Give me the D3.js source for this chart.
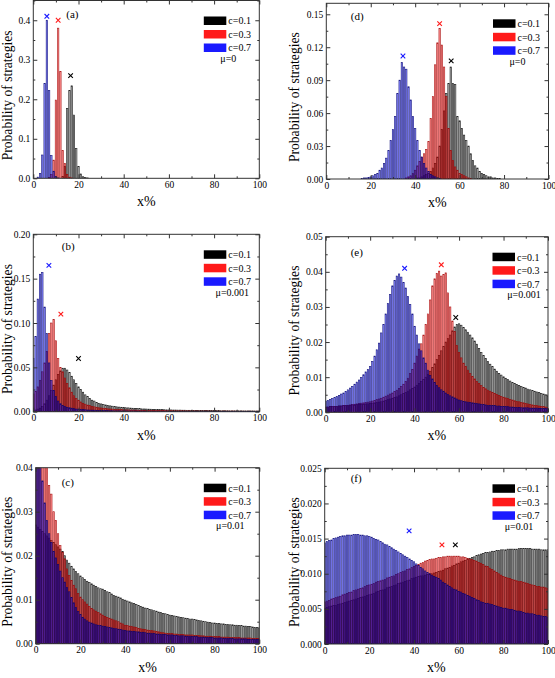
<!DOCTYPE html>
<html><head><meta charset="utf-8">
<script src="https://cdn.jsdelivr.net/npm/d3@7"></script>
<style>
body{margin:0;background:#fff}
svg{display:block}
text{font-family:"Liberation Serif","Times New Roman",serif;fill:#000}
</style>
</head><body>
<svg id="chart" width="555" height="678"></svg>
<script>
// ---------- DATA (x = 0..100 %, one value per integer x) ----------
const xTickValues = [0, 20, 40, 60, 80, 100];
const seriesNames = ["c=0.1", "c=0.3", "c=0.7"];

// (a) mu = 0
const black_a = [
0,0,0,0,0,0,0,0,0,0,
0,0,0,0.005,0.03,0.177,0.222,0.234,0.16,0.075,
0.03,0.011,0.004,0.002,0.001,0,0,0,0,0,
0,0,0,0,0,0,0,0,0,0,
0,0,0,0,0,0,0,0,0,0,
0,0,0,0,0,0,0,0,0,0,
0,0,0,0,0,0,0,0,0,0,
0,0,0,0,0,0,0,0,0,0,
0,0,0,0,0,0,0,0,0,0,
0,0,0,0,0,0,0,0,0,0,
0];
const red_a = [
0,0,0,0,0,0,0,0.002,0.01,0.046,
0.198,0.38,0.27,0.07,0.038,0.01,0.003,0.001,0,0,
0,0,0,0,0,0,0,0,0,0,
0,0,0,0,0,0,0,0,0,0,
0,0,0,0,0,0,0,0,0,0,
0,0,0,0,0,0,0,0,0,0,
0,0,0,0,0,0,0,0,0,0,
0,0,0,0,0,0,0,0,0,0,
0,0,0,0,0,0,0,0,0,0,
0,0,0,0,0,0,0,0,0,0,
0];
const blue_a = [
0,0,0.003,0.012,0.059,0.24,0.40,0.222,0.058,0.018,
0.005,0.001,0,0,0,0,0,0,0,0,
0,0,0,0,0,0,0,0,0,0,
0,0,0,0,0,0,0,0,0,0,
0,0,0,0,0,0,0,0,0,0,
0,0,0,0,0,0,0,0,0,0,
0,0,0,0,0,0,0,0,0,0,
0,0,0,0,0,0,0,0,0,0,
0,0,0,0,0,0,0,0,0,0,
0,0,0,0,0,0,0,0,0,0,
0];
const peaks_a = [[16.5, 0.26], [11, 0.40], [6, 0.41]];

// (d) mu = 0
const black_d = [
0,0,0,0,0,0,0,0,0,0,
0,0,0,0,0,0,0,0,0,0,
0,0,0,0,0,0,0,0,0,0,
0,0,0,0,0,0,0,0,0,0,
0,0.001,0.001,0.002,0.003,0.004,0.005,0.007,0.01,0.014,
0.02,0.03,0.045,0.062,0.078,0.087,0.102,0.087,0.086,0.057,
0.053,0.046,0.04,0.035,0.03,0.023,0.017,0.012,0.01,0.007,
0.005,0.004,0.003,0.002,0.002,0.001,0.001,0.0005,0.0005,0,
0,0,0,0,0,0,0,0,0,0,
0,0,0,0,0,0,0,0,0,0,
0];
const red_d = [
0,0,0,0,0,0,0,0,0,0,
0,0,0,0,0,0,0,0,0,0,
0,0,0,0,0,0,0,0,0,0,
0,0,0,0,0,0,0.001,0.002,0.003,0.005,
0.008,0.012,0.016,0.02,0.023,0.027,0.034,0.055,0.075,0.104,
0.124,0.137,0.122,0.102,0.075,0.046,0.026,0.017,0.011,0.008,
0.005,0.004,0.003,0.002,0.001,0.0005,0,0,0,0,
0,0,0,0,0,0,0,0,0,0,
0,0,0,0,0,0,0,0,0,0,
0,0,0,0,0,0,0,0,0,0,
0];
const blue_d = [
0,0,0,0,0,0,0,0,0,0,
0,0,0,0,0,0,0.0005,0.001,0.001,0.0015,
0.002,0.003,0.004,0.005,0.008,0.01,0.014,0.019,0.026,0.035,
0.045,0.057,0.078,0.09,0.106,0.102,0.1,0.084,0.072,0.057,
0.046,0.035,0.026,0.02,0.014,0.01,0.007,0.004,0.003,0.002,
0.001,0.0005,0,0,0,0,0,0,0,0,
0,0,0,0,0,0,0,0,0,0,
0,0,0,0,0,0,0,0,0,0,
0,0,0,0,0,0,0,0,0,0,
0,0,0,0,0,0,0,0,0,0,
0];
const peaks_d = [[56.2, 0.1076], [51, 0.1415], [34.5, 0.112]];

// (b) mu = 0.001
const black_b = [
0.001,0.002,0.003,0.004,0.006,0.009,0.013,0.018,0.024,0.03,
0.036,0.042,0.046,0.049,0.049,0.047,0.044,0.04,0.036,0.032,
0.028,0.025,0.022,0.019,0.017,0.015,0.013,0.012,0.0105,0.0095,
0.0088,0.0082,0.0076,0.0071,0.0066,0.0062,0.0058,0.0055,0.0052,0.005,
0.0047,0.0045,0.0043,0.0041,0.0039,0.0037,0.0035,0.0034,0.0032,0.0031,
0.003,0.0029,0.0028,0.0027,0.0026,0.0025,0.0024,0.0023,0.0022,0.0021,
0.002,0.002,0.0019,0.0019,0.0018,0.0018,0.0017,0.0017,0.0016,0.0016,
0.0015,0.0015,0.0015,0.0014,0.0014,0.0014,0.0013,0.0013,0.0013,0.0012,
0.0012,0.0012,0.0012,0.0011,0.0011,0.0011,0.0011,0.001,0.001,0.001,
0.001,0.001,0.001,0.0009,0.0009,0.0009,0.0009,0.0009,0.0008,0.0008,
0.0008];
const red_b = [
0.02,0.023,0.028,0.035,0.045,0.055,0.068,0.088,0.1,0.104,
0.08,0.06,0.05,0.045,0.038,0.032,0.027,0.022,0.018,0.015,
0.013,0.011,0.0095,0.0085,0.0075,0.0068,0.006,0.0055,0.005,0.0045,
0.0042,0.0039,0.0036,0.0033,0.0031,0.0029,0.0027,0.0025,0.0024,0.0023,
0.0022,0.0021,0.002,0.0019,0.0018,0.0017,0.0017,0.0016,0.0016,0.0015,
0.0015,0.0014,0.0014,0.0013,0.0013,0.0013,0.0012,0.0012,0.0012,0.0011,
0.0011,0.0011,0.001,0.001,0.001,0.001,0.001,0.0009,0.0009,0.0009,
0.0009,0.0009,0.0008,0.0008,0.0008,0.0008,0.0008,0.0008,0.0008,0.0007,
0.0007,0.0007,0.0007,0.0007,0.0007,0.0007,0.0007,0.0007,0.0007,0.0007,
0.0006,0.0006,0.0006,0.0006,0.0006,0.0006,0.0006,0.0006,0.0006,0.0006,
0.0006];
const blue_b = [
0.06,0.085,0.127,0.155,0.157,0.118,0.088,0.055,0.035,0.024,
0.017,0.012,0.009,0.007,0.006,0.005,0.0045,0.004,0.0035,0.003,
0.0028,0.0026,0.0024,0.0022,0.002,0.0019,0.0018,0.0017,0.0016,0.0015,
0.0014,0.0013,0.0012,0.0012,0.0011,0.0011,0.001,0.001,0.001,0.0009,
0.0009,0.0009,0.0008,0.0008,0.0008,0.0008,0.0007,0.0007,0.0007,0.0007,
0.0006,0.0006,0.0006,0.0006,0.0006,0.0006,0.0006,0.0006,0.0006,0.0006,
0.0005,0.0005,0.0005,0.0005,0.0005,0.0005,0.0005,0.0005,0.0005,0.0005,
0.0005,0.0005,0.0005,0.0005,0.0005,0.0005,0.0005,0.0005,0.0005,0.0005,
0.0004,0.0004,0.0004,0.0004,0.0004,0.0004,0.0004,0.0004,0.0004,0.0004,
0.0004,0.0004,0.0004,0.0004,0.0004,0.0004,0.0004,0.0004,0.0004,0.0004,
0.0004];
const peaks_b = [[20, 0.06], [12.2, 0.11], [6.9, 0.165]];

// (e) mu = 0.001
const black_e = [
0.0015,0.0015,0.0016,0.0016,0.0017,0.0017,0.0018,0.0018,0.0019,0.0019,
0.002,0.002,0.0021,0.0021,0.0022,0.0022,0.0023,0.0023,0.0024,0.0024,
0.0025,0.0026,0.0027,0.0028,0.0029,0.003,0.0032,0.0034,0.0036,0.0038,
0.004,0.0042,0.0044,0.0047,0.005,0.0053,0.0056,0.006,0.0064,0.0068,
0.0072,0.0077,0.0082,0.0088,0.0094,0.01,0.0108,0.0117,0.0127,0.0138,
0.015,0.0162,0.0175,0.0188,0.02,0.021,0.022,0.0232,0.0243,0.025,
0.0252,0.0248,0.0242,0.0235,0.0228,0.022,0.0212,0.0203,0.0194,0.0182,
0.017,0.0162,0.0153,0.0145,0.0137,0.013,0.0123,0.0117,0.0111,0.0106,
0.0101,0.0097,0.0093,0.0089,0.0085,0.0082,0.0079,0.0076,0.0073,0.0071,
0.0069,0.0066,0.0064,0.0062,0.006,0.0058,0.0056,0.0054,0.0052,0.005,
0.0045];
const red_e = [
0.0015,0.0015,0.0016,0.0016,0.0017,0.0017,0.0018,0.0018,0.0019,0.0019,
0.002,0.0021,0.0022,0.0023,0.0024,0.0025,0.0026,0.0027,0.0028,0.0029,
0.003,0.0032,0.0034,0.0036,0.0038,0.004,0.0043,0.0046,0.0049,0.0052,
0.0055,0.0059,0.0063,0.0068,0.0074,0.008,0.0088,0.0097,0.011,0.0122,
0.014,0.016,0.018,0.0195,0.022,0.025,0.028,0.032,0.036,0.038,
0.0395,0.0402,0.0388,0.0392,0.0397,0.034,0.03,0.026,0.023,0.019,
0.017,0.0155,0.014,0.013,0.012,0.011,0.0102,0.0095,0.0088,0.0082,
0.0076,0.0071,0.0067,0.0063,0.006,0.0057,0.0054,0.0051,0.0048,0.0045,
0.0043,0.0041,0.0039,0.0037,0.0035,0.0033,0.0031,0.003,0.0028,0.0027,
0.0025,0.0024,0.0022,0.0021,0.002,0.0019,0.0018,0.0017,0.0016,0.0015,
0.0014];
const blue_e = [
0.0032,0.0034,0.0036,0.0039,0.0042,0.0045,0.0048,0.0052,0.0055,0.0059,
0.0064,0.0069,0.0074,0.008,0.0086,0.0092,0.0099,0.0107,0.0115,0.0122,
0.013,0.0145,0.016,0.0178,0.0197,0.0226,0.025,0.028,0.031,0.0335,
0.036,0.0375,0.0388,0.0394,0.0385,0.037,0.0354,0.033,0.0307,0.028,
0.0245,0.022,0.0195,0.0175,0.0155,0.014,0.012,0.0105,0.0095,0.0085,
0.0076,0.007,0.0064,0.006,0.0055,0.0051,0.0047,0.0044,0.0041,0.0038,
0.0035,0.0033,0.0031,0.003,0.0029,0.0028,0.0027,0.0026,0.0025,0.0024,
0.0023,0.0022,0.0021,0.002,0.002,0.0019,0.0019,0.0018,0.0018,0.0017,
0.0017,0.0016,0.0016,0.0015,0.0015,0.0014,0.0014,0.0014,0.0013,0.0013,
0.0013,0.0013,0.0012,0.0012,0.0012,0.0012,0.0011,0.0011,0.0011,0.0011,
0.0011];
const peaks_e = [[58.5, 0.027], [52, 0.042], [35.5, 0.041]];

// (c) mu = 0.01
const black_c = [
0.027,0.0265,0.026,0.0255,0.025,0.0245,0.024,0.0235,0.023,0.0225,
0.022,0.0215,0.021,0.02,0.019,0.0183,0.0176,0.017,0.0164,0.0159,
0.0154,0.015,0.0146,0.0142,0.0139,0.0136,0.0133,0.013,0.0127,0.0125,
0.0124,0.0121,0.0118,0.0116,0.0113,0.011,0.0108,0.0106,0.0104,0.0101,
0.0099,0.0097,0.0095,0.0093,0.0091,0.0089,0.0087,0.0085,0.0083,0.0081,
0.008,0.0078,0.0077,0.0075,0.0074,0.0072,0.0071,0.0069,0.0068,0.0066,
0.0065,0.0064,0.0063,0.0062,0.0061,0.006,0.0059,0.0058,0.0057,0.0056,
0.0056,0.0055,0.0054,0.0053,0.0052,0.0051,0.005,0.0049,0.0048,0.0047,
0.0047,0.0046,0.0046,0.0045,0.0045,0.0044,0.0044,0.0043,0.0043,0.0042,
0.0042,0.0041,0.0041,0.004,0.004,0.0039,0.0039,0.0038,0.0037,0.0037,
0.0036];
const red_c = [
0.06,0.056,0.052,0.048,0.044,0.04,0.036,0.034,0.03,0.028,
0.025,0.0223,0.0208,0.0193,0.017,0.0155,0.0144,0.0133,0.0125,0.0114,
0.0106,0.01,0.0095,0.009,0.0085,0.008,0.0077,0.0074,0.0071,0.0068,
0.0065,0.0062,0.006,0.0058,0.0056,0.0054,0.0052,0.005,0.0047,0.0045,
0.0042,0.0041,0.004,0.0039,0.0038,0.0037,0.0035,0.0034,0.0033,0.0032,
0.0031,0.003,0.003,0.0029,0.0028,0.0027,0.0026,0.0025,0.0024,0.0023,
0.0023,0.0023,0.0022,0.0022,0.0021,0.0021,0.0021,0.002,0.002,0.002,
0.002,0.0019,0.0019,0.0019,0.0018,0.0018,0.0017,0.0017,0.0017,0.0016,
0.0016,0.0016,0.0016,0.0015,0.0015,0.0015,0.0015,0.0014,0.0014,0.0014,
0.0014,0.0014,0.0013,0.0013,0.0013,0.0013,0.0013,0.0012,0.0012,0.0012,
0.0012];
const blue_c = [
0.06,0.05,0.043,0.037,0.032,0.028,0.025,0.023,0.021,0.0195,
0.018,0.0165,0.015,0.014,0.0128,0.0118,0.0105,0.0093,0.0082,0.0073,
0.0066,0.006,0.0056,0.0052,0.0049,0.0047,0.0045,0.0043,0.0042,0.0041,
0.004,0.0039,0.0038,0.0037,0.0036,0.0035,0.0034,0.0033,0.0032,0.0031,
0.003,0.0029,0.0029,0.0028,0.0028,0.0027,0.0027,0.0026,0.0026,0.0025,
0.0024,0.0024,0.0023,0.0023,0.0022,0.0022,0.0021,0.0021,0.0021,0.002,
0.002,0.002,0.0019,0.0019,0.0018,0.0018,0.0018,0.0017,0.0017,0.0017,
0.0016,0.0016,0.0016,0.0015,0.0015,0.0015,0.0014,0.0014,0.0014,0.0014,
0.0013,0.0013,0.0013,0.0013,0.0012,0.0012,0.0012,0.0012,0.0012,0.0011,
0.0011,0.0011,0.0011,0.0011,0.0011,0.001,0.001,0.001,0.001,0.001,
0.001];
const peaks_c = [];

// (f) mu = 0.01
const black_f = [
0.0051,0.0052,0.0053,0.0054,0.0055,0.0055,0.0056,0.0057,0.0058,0.0059,
0.006,0.0061,0.0062,0.0063,0.0064,0.0065,0.0066,0.0067,0.0068,0.0069,
0.007,0.0071,0.0072,0.0074,0.0075,0.0076,0.0077,0.0078,0.008,0.0081,
0.0082,0.0083,0.0084,0.0086,0.0087,0.0088,0.0089,0.009,0.0091,0.0093,
0.0094,0.0095,0.0096,0.0097,0.0097,0.0098,0.0099,0.01,0.01,0.0101,
0.0102,0.0103,0.0104,0.0105,0.0107,0.0108,0.0109,0.0111,0.0112,0.0114,
0.0115,0.0117,0.0118,0.0119,0.0121,0.0122,0.0123,0.0124,0.0126,0.0127,
0.0128,0.0129,0.013,0.013,0.0131,0.0132,0.0132,0.0133,0.0133,0.0134,
0.0134,0.0134,0.0135,0.0135,0.0135,0.0135,0.0135,0.0136,0.0136,0.0136,
0.0136,0.0136,0.0136,0.0135,0.0135,0.0135,0.0135,0.0134,0.0134,0.0134,
0.0134];
const red_f = [
0.006,0.0061,0.0062,0.0064,0.0065,0.0066,0.0067,0.0068,0.007,0.0071,
0.0072,0.0073,0.0074,0.0076,0.0077,0.0078,0.0079,0.008,0.0082,0.0083,
0.0084,0.0085,0.0086,0.0088,0.0089,0.009,0.0091,0.0092,0.0094,0.0095,
0.0096,0.0097,0.0099,0.01,0.0102,0.0103,0.0104,0.0106,0.0107,0.0109,
0.011,0.0112,0.0113,0.0115,0.0116,0.0118,0.0119,0.012,0.0121,0.0121,
0.0122,0.0123,0.0123,0.0124,0.0124,0.0125,0.0125,0.0125,0.0125,0.0125,
0.0125,0.0124,0.0124,0.0123,0.0122,0.0121,0.012,0.0119,0.0118,0.0116,
0.0115,0.0113,0.0111,0.011,0.0108,0.0106,0.0104,0.0102,0.01,0.0098,
0.0096,0.0095,0.0094,0.0093,0.0092,0.0091,0.009,0.0089,0.0089,0.0088,
0.0087,0.0086,0.0085,0.0084,0.0083,0.0082,0.0082,0.0081,0.0081,0.008,
0.0079];
const blue_f = [
0.0144,0.0146,0.0147,0.0148,0.015,0.0151,0.0152,0.0153,0.0154,0.0154,
0.0155,0.0155,0.0155,0.0156,0.0156,0.0156,0.0155,0.0155,0.0154,0.0154,
0.0153,0.0152,0.015,0.0149,0.0148,0.0146,0.0144,0.0142,0.0141,0.0139,
0.0137,0.0135,0.0133,0.0131,0.0129,0.0127,0.0125,0.0123,0.0121,0.0119,
0.0117,0.0114,0.0112,0.0109,0.0107,0.0104,0.0102,0.01,0.0098,0.0096,
0.0095,0.0093,0.0091,0.0088,0.0086,0.0084,0.0082,0.008,0.0078,0.0077,
0.0075,0.0074,0.0072,0.0071,0.0069,0.0068,0.0066,0.0065,0.0063,0.0062,
0.006,0.0059,0.0058,0.0058,0.0057,0.0056,0.0055,0.0054,0.0053,0.0052,
0.0051,0.0051,0.005,0.0049,0.0049,0.0048,0.0047,0.0047,0.0046,0.0045,
0.0044,0.0044,0.0043,0.0043,0.0042,0.0041,0.0041,0.004,0.0039,0.0039,
0.0038];
const peaks_f = [[58.5, 0.0141], [52.5, 0.0141], [37.8, 0.0161]];

// ---------- LAYOUT ----------
const panels = [
  {tag:"(a)", mu:"μ=0",     series:[black_a,red_a,blue_a], peaks:peaks_a, ymax:0.45,  step:0.1,   fmt:".1f", box:[33.3,0.5,259.3,178.3], tag_dx:33,  tag_dy:17, mu_dx:31, ylabX:12.3},
  {tag:"(d)", mu:"μ=0",     series:[black_d,red_d,blue_d], peaks:peaks_d, ymax:0.16,  step:0.03,  fmt:".2f", box:[326.3,3.3,548.5,179],  tag_dx:24.5,tag_dy:17, mu_dx:31, ylabX:299},
  {tag:"(b)", mu:"μ=0.001", series:[black_b,red_b,blue_b], peaks:peaks_b, ymax:0.20,  step:0.05,  fmt:".2f", box:[33.3,234.3,259.3,411.7],tag_dx:28.5,tag_dy:16, mu_dx:27, ylabX:12.3},
  {tag:"(e)", mu:"μ=0.001", series:[black_e,red_e,blue_e], peaks:peaks_e, ymax:0.05,  step:0.01,  fmt:".2f", box:[325.7,236.7,548,412.3], tag_dx:25,  tag_dy:19, mu_dx:24, ylabX:299},
  {tag:"(c)", mu:"μ=0.01",  series:[black_c,red_c,blue_c], peaks:peaks_c, ymax:0.04,  step:0.01,  fmt:".2f", box:[35.7,467.7,259.3,643.7],tag_dx:26,  tag_dy:18, mu_dx:29, ylabX:12.3},
  {tag:"(f)", mu:"μ=0.01",  series:[black_f,red_f,blue_f], peaks:peaks_f, ymax:0.025, step:0.005, fmt:".3f", box:[324.7,468.3,548,644],   tag_dx:26,  tag_dy:14, mu_dx:29, ylabX:299}
];
const fills   = ["#000000", "#ff0000", "#0000ff"];
const strokes = ["#000000", "#a00000", "#000070"];
const fillOp  = [0.28, 0.42, 0.45];
const legendFill = ["#000000", "#ff1a1a", "#1a1aff"];

const svg = d3.select("#chart");

panels.forEach((p, pi) => {
  const [L, T, R, B] = p.box;
  const x = d3.scaleLinear().domain([0, 100]).range([L, R]);
  const y = d3.scaleLinear().domain([0, p.ymax]).range([B, T]);
  const g = svg.append("g");
  const clipId = "clip" + pi;
  g.append("clipPath").attr("id", clipId).append("rect")
    .attr("x", L).attr("y", T).attr("width", R - L).attr("height", B - T);

  const unit = x(1) - x(0);
  const bw = unit * 0.62;
  const bars = g.append("g").attr("clip-path", `url(#${clipId})`);
  p.series.forEach((vals, si) => {
    bars.append("g").selectAll("rect").data(vals.map((v, i) => ({i, v})).filter(d => d.v > 0))
      .join("rect")
      .attr("x", d => x(d.i) - bw / 2)
      .attr("width", bw)
      .attr("y", d => y(d.v))
      .attr("height", d => y(0) - y(d.v))
      .attr("fill", fills[si]).attr("fill-opacity", fillOp[si])
      .attr("stroke", strokes[si]).attr("stroke-opacity", 0.9).attr("stroke-width", 0.6);
  });

  // axes ticks (inward)
  const yMaj = d3.range(0, p.ymax + 1e-9, p.step).map(v => +v.toFixed(6));
  const yMin = d3.range(p.step / 2, p.ymax + 1e-9, p.step).map(v => +v.toFixed(6));
  const xMin = [10, 30, 50, 70, 90];
  const f = d3.format(p.fmt);

  const axL = g.append("g").attr("transform", `translate(${L},0)`)
    .call(d3.axisLeft(y).tickValues(yMaj).tickSize(-4).tickSizeOuter(0).tickPadding(3).tickFormat(f));
  const axLm = g.append("g").attr("transform", `translate(${L},0)`)
    .call(d3.axisLeft(y).tickValues(yMin).tickSize(-2).tickSizeOuter(0).tickFormat(""));
  const axR = g.append("g").attr("transform", `translate(${R},0)`)
    .call(d3.axisRight(y).tickValues(yMaj).tickSize(-4).tickSizeOuter(0).tickFormat(""));
  const axRm = g.append("g").attr("transform", `translate(${R},0)`)
    .call(d3.axisRight(y).tickValues(yMin).tickSize(-2).tickSizeOuter(0).tickFormat(""));
  const axB = g.append("g").attr("transform", `translate(0,${B})`)
    .call(d3.axisBottom(x).tickValues(xTickValues).tickSize(-4).tickSizeOuter(0).tickPadding(3).tickFormat(d3.format("d")));
  const axBm = g.append("g").attr("transform", `translate(0,${B})`)
    .call(d3.axisBottom(x).tickValues(xMin).tickSize(-2).tickSizeOuter(0).tickFormat(""));
  const axT = g.append("g").attr("transform", `translate(0,${T})`)
    .call(d3.axisTop(x).tickValues(xTickValues).tickSize(-4).tickSizeOuter(0).tickFormat(""));
  const axTm = g.append("g").attr("transform", `translate(0,${T})`)
    .call(d3.axisTop(x).tickValues(xMin).tickSize(-2).tickSizeOuter(0).tickFormat(""));
  [axL, axLm, axR, axRm, axB, axBm, axT, axTm].forEach(a => {
    a.select(".domain").remove();
    a.selectAll("line").attr("stroke", "#333");
    a.selectAll("text").attr("font-family", "'Liberation Serif', serif").attr("font-size", 9.5).attr("fill", "#000");
  });

  // frame
  g.append("rect").attr("x", L).attr("y", T).attr("width", R - L).attr("height", B - T)
    .attr("fill", "none").attr("stroke", "#333").attr("stroke-width", 1);

  // peak markers
  p.peaks.forEach((pk, si) => {
    const cx = x(pk[0]), cy = y(pk[1]), s = 2.3;
    g.append("path").attr("d", `M${cx - s},${cy - s}L${cx + s},${cy + s}M${cx - s},${cy + s}L${cx + s},${cy - s}`)
      .attr("stroke", legendFill[si]).attr("stroke-width", 1.1).attr("fill", "none");
  });

  // legend
  const sw = [16, 29.5, 43];
  seriesNames.forEach((nm, si) => {
    g.append("rect").attr("x", R - 55.5).attr("y", T + sw[si]).attr("width", 22.5).attr("height", 8.5)
      .attr("fill", legendFill[si]);
    g.append("text").attr("x", R - 31).attr("y", T + sw[si] + 7.8).attr("font-size", 10).text(nm);
  });
  g.append("text").attr("x", R - p.mu_dx).attr("y", T + 61.5).attr("text-anchor", "middle")
    .attr("font-size", 10).text(p.mu);

  // panel tag
  g.append("text").attr("x", L + p.tag_dx).attr("y", T + p.tag_dy).attr("font-size", 11).text(p.tag);

  // axis titles
  g.append("text").attr("x", (L + R) / 2).attr("y", B + 28).attr("text-anchor", "middle")
    .attr("font-size", 14).text("x%");
  const cy = (T + B) / 2 + 6;
  g.append("text").attr("transform", `translate(${p.ylabX},${cy}) rotate(-90)`).attr("text-anchor", "middle")
    .attr("font-size", 13.6).text("Probability of strategies");
});
</script>
</body></html>
